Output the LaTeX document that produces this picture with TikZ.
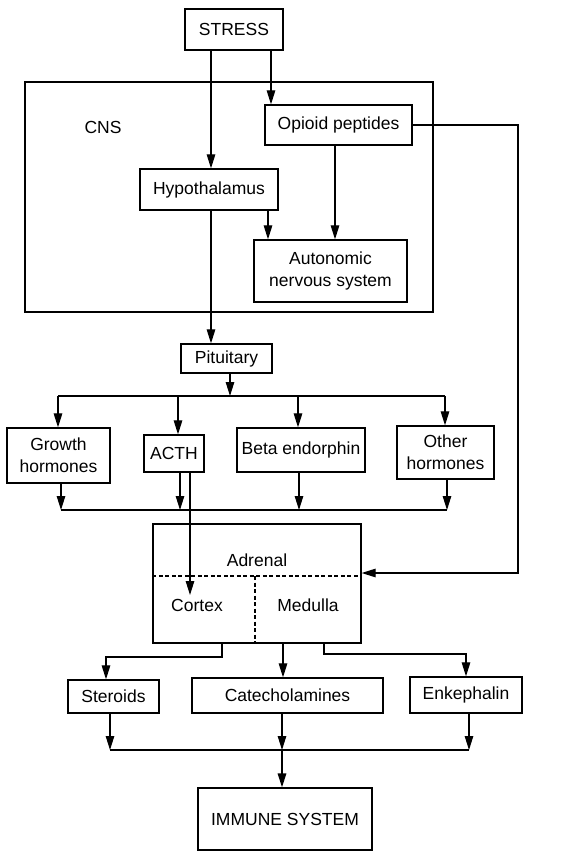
\documentclass[tikz,border=0pt]{standalone}
\usepackage{fontspec}
\setmainfont{Liberation Sans}
\usetikzlibrary{arrows.meta}
\newcommand\fs{\fontsize{17.5}{22}\selectfont}
\begin{document}
\begin{tikzpicture}[x=1pt,y=-1pt,
  box/.style={draw,line width=1.3pt,inner sep=0pt,align=center,font=\fs},
  lbl/.style={inner sep=0pt,font=\fs},
  arr/.style={line width=1.2pt,-{Triangle[length=14pt,width=8.5pt]}},
  ln/.style={line width=1.2pt},
  dsh/.style={line width=1.2pt,dash pattern=on 4pt off 2.5pt}]
\useasboundingbox (0,0) rectangle (577,857);
% boxes
\node[box,minimum width=408,minimum height=230] (cns) at (229,197) {};
\node[lbl] (cnslbl) at (103,127) {CNS};
\node[box,minimum width=98,minimum height=41] (stress) at (234,29.5) {STRESS};
\node[box,minimum width=147,minimum height=40] (opioid) at (338.5,125) {Opioid peptides};
\node[box,minimum width=138,minimum height=41] (hypo) at (209,189.5) {Hypothalamus};
\node[box,minimum width=153,minimum height=62] (ans) at (330.5,271) {Autonomic\\nervous system};
\node[box,minimum width=91,minimum height=29] (pit) at (226.5,358.5) {Pituitary};
\node[box,minimum width=103,minimum height=55] (growth) at (58.5,455.5) {Growth\\hormones};
\node[box,minimum width=60,minimum height=37] (acth) at (174,453.5) {ACTH};
\node[box,minimum width=128,minimum height=44] (beta) at (301,450) {Beta endorphin};
\node[box,minimum width=97,minimum height=53] (other) at (445.5,452.5) {Other\\hormones};
\node[box,minimum width=208,minimum height=119] (adrenal) at (257,583.5) {};
\node[lbl] (adrlbl) at (257,560) {Adrenal};
\node[lbl] (cortex) at (197,605) {Cortex};
\node[lbl] (medulla) at (308,605) {Medulla};
\node[box,minimum width=91,minimum height=33] (steroids) at (113.5,696.5) {Steroids};
\node[box,minimum width=191,minimum height=35] (catechol) at (287.5,695.5) {Catecholamines};
\node[box,minimum width=112,minimum height=36] (enk) at (466,695) {Enkephalin};
\node[box,minimum width=174,minimum height=62] (immune) at (285,819) {IMMUNE SYSTEM};
% adrenal dashed division
\coordinate (dl) at (adrenal.west |- 0,576);
\coordinate (dr) at (adrenal.east |- 0,576);
\coordinate (dv) at (255,576);
\draw[dsh] (dl) -- (dr);
\draw[dsh] (dv) -- (dv |- adrenal.south);
% CNS connectors
\draw[arr] (211,0 |- stress.south) -- (211,0 |- hypo.north);
\draw[arr] (271,0 |- stress.south) -- (271,0 |- opioid.north);
\draw[arr] (335,0 |- opioid.south) -- (335,0 |- ans.north);
\draw[arr] (268,0 |- hypo.south) -- (268,0 |- ans.north);
\coordinate (opr) at (518,0 |- opioid.east);
\coordinate (opd) at (518,573);
\draw[arr] (opioid.east) -- (opr) -- (opd) -- (adrenal.east |- opd);
\draw[arr] (211,0 |- hypo.south) -- (211,0 |- pit.north);
% pituitary bus
\coordinate (busA) at (230,396);
\coordinate (busAl) at (58,396);
\coordinate (busAr) at (445,396);
\draw[arr] (230,0 |- pit.south) -- (busA);
\draw[ln] (busAl) -- (busAr);
\draw[arr] (busAl) -- (58,0 |- growth.north);
\draw[arr] (178,396) -- (178,0 |- acth.north);
\draw[arr] (298,396) -- (298,0 |- beta.north);
\draw[arr] (busAr) -- (445,0 |- other.north);
% hormones bus
\coordinate (busBl) at (61,510);
\coordinate (busBr) at (447,510);
\draw[arr] (61,0 |- growth.south) -- (busBl);
\draw[arr] (180,0 |- acth.south) -- (180,510);
\draw[arr] (299,0 |- beta.south) -- (299,510);
\draw[arr] (447,0 |- other.south) -- (busBr);
\draw[ln] (busBl) -- (busBr);
\draw[arr] (190,0 |- acth.south) -- (190,595);
% adrenal outputs
\draw[arr] (222,0 |- adrenal.south) |- (106,657) -- (106,0 |- steroids.north);
\draw[arr] (283,0 |- adrenal.south) -- (283,0 |- catechol.north);
\draw[arr] (324,0 |- adrenal.south) |- (466,654) -- (466,0 |- enk.north);
% immune bus
\coordinate (busCl) at (110,750);
\coordinate (busCr) at (469,750);
\coordinate (busC) at (282,750);
\draw[arr] (110,0 |- steroids.south) -- (busCl);
\draw[arr] (282,0 |- catechol.south) -- (busC);
\draw[arr] (469,0 |- enk.south) -- (busCr);
\draw[ln] (busCl) -- (busCr);
\draw[arr,line width=1.5pt] (busC) -- (282,0 |- immune.north);
\end{tikzpicture}
\end{document}
